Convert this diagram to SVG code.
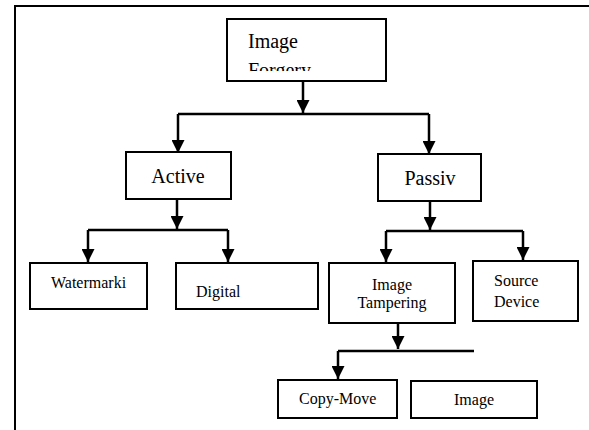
<svg xmlns="http://www.w3.org/2000/svg" width="589" height="430" viewBox="0 0 589 430">
<style>
.box{fill:#fff;stroke:#000;stroke-width:2}
text{font-family:'Liberation Serif','DejaVu Serif',serif;fill:#000}
.big{font-size:20px}
.sm{font-size:16px}
.c{fill:none;stroke:#000;stroke-width:2.5}
.frame{fill:none;stroke:#000;stroke-width:2}
</style>
<defs>
<marker id="ah" markerUnits="userSpaceOnUse" markerWidth="13" markerHeight="13" refX="13" refY="6.5" orient="auto">
<path d="M0,0 L13,6.5 L0,13 z" fill="#000"/>
</marker>
<clipPath id="cf"><rect x="228" y="20" width="157" height="51"/></clipPath>
<clipPath id="cd"><rect x="177" y="264" width="140" height="38"/></clipPath>
<clipPath id="ci"><rect x="412" y="382" width="124" height="27"/></clipPath>
</defs>
<path class="frame" d="M15,430 V6 H589"/>
<g id="connectors">
<path class="c" d="M303,81 V113" marker-end="url(#ah)"/>
<path class="c" d="M178,114 H429"/>
<path class="c" d="M178,114 V153" marker-end="url(#ah)"/>
<path class="c" d="M429,114 V154" marker-end="url(#ah)"/>
<path class="c" d="M177,199 V229" marker-end="url(#ah)"/>
<path class="c" d="M88,230 H228"/>
<path class="c" d="M88,230 V262" marker-end="url(#ah)"/>
<path class="c" d="M228,230 V262" marker-end="url(#ah)"/>
<path class="c" d="M430,201 V230" marker-end="url(#ah)"/>
<path class="c" d="M386,231 H523"/>
<path class="c" d="M386,231 V262" marker-end="url(#ah)"/>
<path class="c" d="M523,231 V260" marker-end="url(#ah)"/>
<path class="c" d="M398,323 V349" marker-end="url(#ah)"/>
<path class="c" d="M338,351 H474"/>
<path class="c" d="M338,351 V379" marker-end="url(#ah)"/>
</g>
<g id="image-forgery">
<rect class="box" x="227" y="19" width="159" height="62"/>
<g clip-path="url(#cf)">
<text class="big" x="248" y="48" font-family="Liberation Serif, serif">Image</text>
<text class="big" x="248" y="77" font-family="Liberation Serif, serif">Forgery</text>
</g>
</g>
<g id="active">
<rect class="box" x="126" y="152" width="105" height="47"/>
<text class="big" x="178" y="183" text-anchor="middle">Active</text>
</g>
<g id="passiv">
<rect class="box" x="378" y="154" width="103" height="47"/>
<text class="big" x="430" y="185" text-anchor="middle">Passiv</text>
</g>
<g id="watermarking">
<rect class="box" x="30" y="263" width="117" height="46"/>
<text class="sm" x="51" y="288">Watermarki</text>
</g>
<g id="digital">
<rect class="box" x="176" y="263" width="142" height="46"/>
<g clip-path="url(#cd)">
<text class="sm" x="196" y="297">Digital</text>
</g>
</g>
<g id="image-tampering">
<rect class="box" x="329" y="263" width="126" height="60"/>
<text class="sm" x="392" y="290" text-anchor="middle">Image</text>
<text class="sm" x="392" y="308" text-anchor="middle">Tampering</text>
</g>
<g id="source-device">
<rect class="box" x="473" y="261" width="105" height="60"/>
<text class="sm" x="494" y="286">Source</text>
<text class="sm" x="494" y="307">Device</text>
</g>
<g id="copy-move">
<rect class="box" x="278" y="380" width="119" height="38"/>
<text class="sm" x="299" y="404">Copy-Move</text>
</g>
<g id="image-splicing">
<rect class="box" x="411" y="381" width="126" height="37"/>
<g clip-path="url(#ci)">
<text class="sm" x="454" y="405">Image</text>
</g>
</g>
</svg>
